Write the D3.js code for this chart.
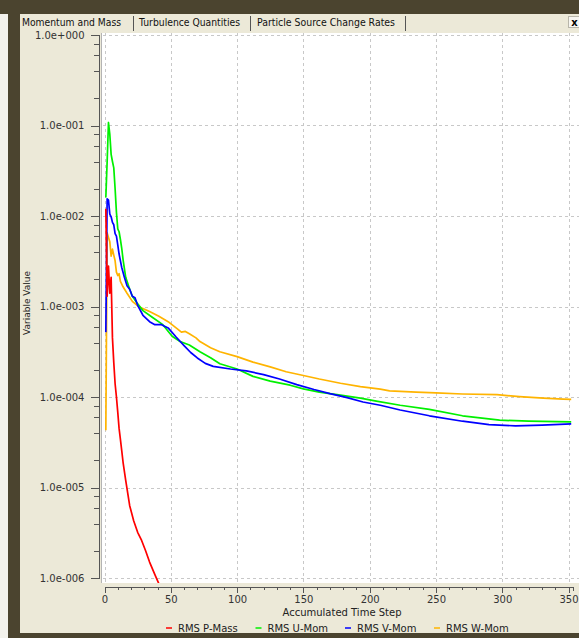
<!DOCTYPE html>
<html>
<head>
<meta charset="utf-8">
<script src="https://cdn.jsdelivr.net/npm/d3@7"></script>
<style>
	body { margin: 0; background: #ece9d8; }
	svg { display: block; font-family: 'DejaVu Sans', sans-serif; }
	.axis text { fill: #333; font-size: 10px; font-family: 'DejaVu Sans', sans-serif; }
	.axis path, .axis line { stroke: #555; shape-rendering: crispEdges; }
	.grid line { stroke: #c8c8c8; stroke-dasharray: 3,3; shape-rendering: crispEdges; }
	.series { fill: none; stroke-width: 1.7; stroke-linejoin: round; }
</style>
</head>
<body>
<svg></svg>
<script>

// chart values
const tabLabels = ['Momentum and Mass', 'Turbulence Quantities', 'Particle Source Change Rates']
const seriesNames = ['RMS P-Mass', 'RMS U-Mom', 'RMS V-Mom', 'RMS W-Mom']

// [accumulated time step, value]
const pMass = [
	[1, 0.012], [2, 0.0013], [3, 0.0028], [4, 0.0014], [5, 0.0021], [6, 0.00045],
	[7, 0.00024], [8, 0.00014], [9, 0.0001], [10, 0.000068], [11, 0.000045],
	[12, 0.000034], [13, 0.0000255], [14, 0.000019], [16, 0.000012], [19, 0.0000063],
	[22, 0.0000043], [25, 0.0000032], [28, 0.0000026], [31, 0.000002], [34, 0.0000015],
	[38, 0.00000109], [42, 0.0000008],
]

const uMom = [
	[1, 0.016], [2, 0.04], [3, 0.108], [4, 0.08], [5, 0.048], [6, 0.04], [7, 0.034],
	[8, 0.02], [9, 0.011], [10, 0.0072], [11, 0.0067], [12, 0.0055], [13, 0.0044],
	[14, 0.0033], [16, 0.0021], [19, 0.00155], [21, 0.0013], [24, 0.00112], [29, 0.0009],
	[36, 0.00076], [44, 0.00063], [51, 0.00047], [57, 0.00041], [64, 0.000375],
	[72, 0.000316], [80, 0.000272], [87, 0.000233], [100, 0.000204], [112, 0.000169],
	[125, 0.00015], [140, 0.000135], [150, 0.000123], [162, 0.000113], [178, 0.000105],
	[193, 0.000097], [205, 0.00009], [223, 0.000081], [245, 0.000073], [270, 0.000062],
	[298, 0.0000555], [320, 0.000054], [352, 0.000053],
]

const vMom = [
	[1, 0.00052], [2, 0.0155], [3, 0.015], [4, 0.0105], [5, 0.0098], [6, 0.0085],
	[7, 0.008], [8, 0.0064], [9, 0.006], [10, 0.0048], [11, 0.0038], [13, 0.0027],
	[15, 0.0021], [17, 0.0017], [19, 0.00155], [21, 0.0013], [23, 0.00125], [25, 0.00103],
	[29, 0.0008], [34, 0.00068], [38, 0.00063], [43, 0.00063], [48, 0.00058], [54, 0.00046],
	[60, 0.00037], [65, 0.00031], [70, 0.00027], [76, 0.000235], [82, 0.000218], [95, 0.000204],
	[107, 0.000194], [120, 0.000177], [132, 0.000158], [145, 0.000137], [158, 0.000121],
	[170, 0.000109], [183, 0.0000985], [195, 0.000088], [208, 0.000081], [223, 0.0000718],
	[245, 0.000062], [270, 0.000054], [290, 0.0000495], [310, 0.000048], [330, 0.000049],
	[352, 0.0000505],
]

const wMom = [
	[1, 0.000043], [2, 0.0065], [3, 0.0058], [4, 0.0052], [5, 0.0036], [6, 0.0043],
	[7, 0.0037], [8, 0.0032], [9, 0.0024], [10, 0.0022], [11, 0.0023], [12, 0.0019],
	[14, 0.00165], [17, 0.0014], [21, 0.00114], [26, 0.00099], [34, 0.00088], [41, 0.00078],
	[48, 0.00068], [54, 0.00058], [58, 0.00052], [61, 0.00053], [64, 0.0005], [69, 0.00045],
	[72, 0.00041], [80, 0.00035], [87, 0.000316], [100, 0.000279], [112, 0.000243],
	[125, 0.000215], [137, 0.00019], [150, 0.000173], [162, 0.000158], [178, 0.000142],
	[193, 0.00013], [208, 0.000122], [215, 0.000117], [235, 0.000113], [250, 0.000111],
	[270, 0.000108], [296, 0.000106], [313, 0.000101], [331, 0.000097], [346, 0.0000948],
	[352, 0.000094],
]

const xTicks = [0, 50, 100, 150, 200, 250, 300, 350]
const xMinorTicks = [0, 10, 20, 30, 40, 50, 60, 70, 80, 90, 100, 110, 120, 130, 140, 150, 160, 170,
	180, 190, 200, 210, 220, 230, 240, 250, 260, 270, 280, 290, 300, 310, 320, 330, 340, 350]
const yTicks = [1, 1e-1, 1e-2, 1e-3, 1e-4, 1e-5, 1e-6]
const yMinorSteps = [2, 4, 6, 8]

// styles
const colors = ['#ff0000', '#00f000', '#0000ff', '#ffb400']
const frameColor = '#4b442f'

const outerWidth = 579
const outerHeight = 638

const svg = d3.select('svg')
	.attr('width', outerWidth)
	.attr('height', outerHeight)

// dark window frame
svg.append('rect')
	.attr('width', outerWidth).attr('height', outerHeight)
	.attr('fill', '#f3f2ec')
svg.append('rect')
	.attr('x', 8).attr('width', outerWidth - 8).attr('height', outerHeight)
	.attr('fill', frameColor)
svg.append('rect')
	.attr('width', 8).attr('height', 14)
	.attr('fill', frameColor)
svg.append('rect')
	.attr('x', 20).attr('y', 14)
	.attr('width', outerWidth - 20).attr('height', 619)
	.attr('fill', '#ece9d8')

// tabs (widths match the narrow system font of the original)
const tabX = [22, 139, 257]
const tabWidth = [99, 101, 138]
const sepX = [133, 250, 405]
svg.selectAll('.tab')
	.data(tabLabels)
	.join('text')
	.attr('class', 'tab')
	.attr('x', (d, i) => tabX[i])
	.attr('y', 25.5)
	.attr('font-size', 10.5)
	.attr('textLength', (d, i) => tabWidth[i])
	.attr('lengthAdjust', 'spacingAndGlyphs')
	.attr('fill', '#111')
	.text(d => d)
svg.selectAll('.tab-sep')
	.data(sepX)
	.join('line')
	.attr('class', 'tab-sep')
	.attr('x1', d => d + 0.5).attr('x2', d => d + 0.5)
	.attr('y1', 16).attr('y2', 31)
	.attr('stroke', '#555')

// close button
svg.append('rect')
	.attr('x', 568.5).attr('y', 16.5).attr('width', 12).attr('height', 11)
	.attr('fill', '#f6f5f0').attr('stroke', '#b8b6aa')
svg.append('text')
	.attr('x', 574.5).attr('y', 25.5)
	.attr('text-anchor', 'middle')
	.attr('font-size', 10).attr('font-weight', 'bold')
	.text('x')

// plot area
const plot = { left: 101, top: 33, right: 579, bottom: 583 }

svg.append('rect')
	.attr('x', plot.left).attr('y', plot.top)
	.attr('width', plot.right - plot.left).attr('height', plot.bottom - plot.top)
	.attr('fill', '#fff')
svg.append('line')
	.attr('x1', plot.left + 0.5).attr('x2', plot.left + 0.5)
	.attr('y1', plot.top).attr('y2', plot.bottom)
	.attr('stroke', '#b4b4b4')

svg.append('defs').append('clipPath')
	.attr('id', 'clip')
	.append('rect')
	.attr('x', plot.left + 1).attr('y', plot.top)
	.attr('width', plot.right - plot.left).attr('height', plot.bottom - plot.top)

// scales
const x = d3.scaleLinear()
	.domain([0, 353.5])
	.range([104.5, 573.2])

const y = d3.scaleLog()
	.domain([1e-6, 1])
	.range([578, 35])

// grid
const grid = svg.append('g').attr('class', 'grid')
grid.selectAll('.gx')
	.data(xTicks)
	.join('line')
	.attr('x1', d => Math.round(x(d)) + 0.5).attr('x2', d => Math.round(x(d)) + 0.5)
	.attr('y1', plot.top).attr('y2', plot.bottom)
grid.selectAll('.gy')
	.data(yTicks)
	.join('line')
	.attr('x1', plot.left + 2).attr('x2', plot.right)
	.attr('y1', d => Math.round(y(d)) + 0.5).attr('y2', d => Math.round(y(d)) + 0.5)

// axes
const expFormat = v => {
	const e = Math.round(Math.log10(v))
	return `1.0e${e < 0 ? '-' : '+'}${String(Math.abs(e)).padStart(3, '0')}`
}

const yMinor = []
yTicks.slice(1).forEach(t => yMinorSteps.forEach(m => yMinor.push(t * m)))

svg.append('g')
	.attr('class', 'axis axis--y')
	.attr('transform', 'translate(98.5, 0)')
	.call(d3.axisLeft(y)
		.tickValues(yTicks)
		.tickFormat(expFormat)
		.tickSize(8)
		.tickPadding(6)
	)

svg.append('g')
	.attr('class', 'axis axis--y-minor')
	.attr('transform', 'translate(98.5, 0)')
	.call(d3.axisLeft(y)
		.tickValues(yMinor)
		.tickFormat('')
		.tickSize(5)
	)
	.call(g => g.select('.domain').remove())

svg.append('g')
	.attr('class', 'axis axis--x')
	.attr('transform', 'translate(0, 586.5)')
	.call(d3.axisBottom(x)
		.tickValues(xTicks)
		.tickSize(6)
		.tickSizeOuter(4)
		.tickPadding(3)
	)

svg.append('g')
	.attr('class', 'axis axis--x-minor')
	.attr('transform', 'translate(0, 586.5)')
	.call(d3.axisBottom(x)
		.tickValues(xMinorTicks)
		.tickFormat('')
		.tickSize(3)
	)
	.call(g => g.select('.domain').remove())

// axis titles
svg.append('text')
	.attr('x', 342).attr('y', 616)
	.attr('text-anchor', 'middle')
	.attr('font-size', 10)
	.attr('fill', '#222')
	.text('Accumulated Time Step')

svg.append('text')
	.attr('transform', 'translate(30, 303) rotate(-90)')
	.attr('text-anchor', 'middle')
	.attr('font-size', 9)
	.attr('fill', '#222')
	.text('Variable Value')

// series
const series = [pMass, uMom, vMom, wMom].map((values, i) => ({ name: seriesNames[i], values }))

const line = d3.line()
	.x(d => x(d[0]))
	.y(d => y(d[1]))

// draw order: orange under, red on top
const drawOrder = [3, 1, 2, 0]
svg.append('g')
	.attr('clip-path', 'url(#clip)')
	.selectAll('path')
	.data(drawOrder)
	.join('path')
	.attr('class', 'series')
	.attr('stroke', i => colors[i])
	.attr('d', i => line(series[i].values))

// legend
const legendX = [166, 255.5, 345, 434]
const legend = svg.append('g')
	.selectAll('g')
	.data(series)
	.join('g')
	.attr('transform', (d, i) => `translate(${legendX[i]}, 628)`)
legend.append('line')
	.attr('x1', 0).attr('x2', 6)
	.attr('stroke', (d, i) => colors[i])
	.attr('stroke-width', 1.5)
legend.append('text')
	.attr('x', 12).attr('y', 3.5)
	.attr('font-size', 10)
	.attr('fill', '#222')
	.text(d => d.name)

</script>
</body>
</html>
